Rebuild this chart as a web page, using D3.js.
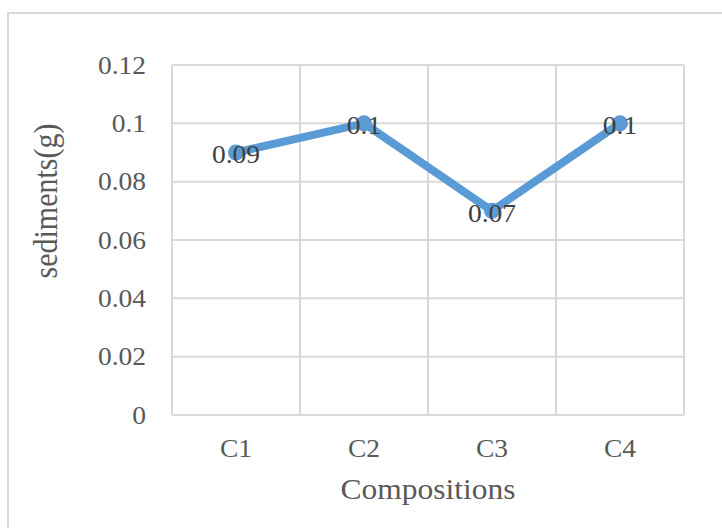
<!DOCTYPE html>
<html>
<head>
<meta charset="utf-8">
<script src="https://cdn.jsdelivr.net/npm/d3@7"></script>
<style>
  html, body { margin: 0; padding: 0; background: #ffffff; }
  svg { display: block; }
  svg text { font-family: 'Liberation Serif', 'Times New Roman', Tinos, 'DejaVu Serif', serif !important; }
</style>
</head>
<body>
<svg id="chart" width="722" height="528"></svg>
<script>
const categories = ["C1", "C2", "C3", "C4"];
const values = [0.09, 0.1, 0.07, 0.1];
const valueLabels = ["0.09", "0.1", "0.07", "0.1"];
const yTicks = [0, 0.02, 0.04, 0.06, 0.08, 0.1, 0.12];
const xTitle = "Compositions";
const yTitle = "sediments(g)";

const svg = d3.select("#chart");
const W = 722, H = 528;
const plot = { left: 172, right: 684, top: 65, bottom: 415 };
const K = 1.1; // horizontal glyph stretch seen in the reference

function stretch(sel, k) {
  sel.each(function () {
    const t = d3.select(this);
    const xv = +t.attr("x") || 0;
    t.attr("x", xv / k).attr("transform", `scale(${k},1)`);
  });
}

svg.append("rect")
  .attr("x", 8).attr("y", 13)
  .attr("width", W + 20).attr("height", H + 20)
  .attr("fill", "#ffffff")
  .attr("stroke", "#d9d9d9").attr("stroke-width", 2);

const x = d3.scaleBand().domain(categories).range([plot.left, plot.right]).padding(0);
const y = d3.scaleLinear().domain([0, 0.12]).range([plot.bottom, plot.top]);

svg.append("g").selectAll("line").data(yTicks).join("line")
  .attr("x1", plot.left).attr("x2", plot.right)
  .attr("y1", d => y(d)).attr("y2", d => y(d))
  .attr("stroke", "#d9d9d9").attr("stroke-width", 2);

const bounds = categories.map(c => x(c)).concat([x(categories[categories.length - 1]) + x.bandwidth()]);
svg.append("g").selectAll("line").data(bounds).join("line")
  .attr("x1", d => d).attr("x2", d => d)
  .attr("y1", plot.top).attr("y2", plot.bottom)
  .attr("stroke", "#d9d9d9").attr("stroke-width", 2);

const yAxis = d3.axisLeft(y).tickValues(yTicks).tickSize(0).tickPadding(26)
  .tickFormat(d => d === 0 ? "0" : d3.format("")(+d.toFixed(2)));
const gy = svg.append("g").attr("transform", `translate(${plot.left},0)`).call(yAxis);
gy.attr("font-family", null);
gy.select(".domain").remove();
gy.selectAll("text")
  .attr("font-size", 25).attr("fill", "#595959").attr("dy", "0.32em")
  .call(stretch, K);

const xAxis = d3.axisBottom(x).tickSize(0).tickPadding(24);
const gx = svg.append("g").attr("transform", `translate(0,${plot.bottom})`).call(xAxis);
gx.attr("font-family", null);
gx.select(".domain").remove();
gx.selectAll("text")
  .attr("font-size", 25).attr("fill", "#595959")
  .call(stretch, K);

const cx = c => x(c) + x.bandwidth() / 2;
const line = d3.line().x((d, i) => cx(categories[i])).y(d => y(d));
svg.append("path").datum(values)
  .attr("d", line)
  .attr("fill", "none")
  .attr("stroke", "#5b9bd5").attr("stroke-width", 8)
  .attr("stroke-linejoin", "round").attr("stroke-linecap", "round");

svg.append("g").selectAll("circle").data(values).join("circle")
  .attr("cx", (d, i) => cx(categories[i])).attr("cy", d => y(d))
  .attr("r", 8).attr("fill", "#5b9bd5");

svg.append("g").selectAll("text").data(values).join("text")
  .attr("x", (d, i) => cx(categories[i])).attr("y", d => y(d) + 11)
  .attr("text-anchor", "middle")
  .attr("font-size", 25).attr("fill", "#404040")
  .text((d, i) => valueLabels[i])
  .call(stretch, K);

svg.append("text")
  .attr("x", (plot.left + plot.right) / 2).attr("y", 499)
  .attr("text-anchor", "middle")
  .attr("font-size", 30).attr("fill", "#595959")
  .text(xTitle)
  .call(stretch, 1.05);

svg.append("text")
  .attr("transform", `translate(57,${(plot.top + plot.bottom) / 2 - 39}) rotate(-90) scale(1,${K})`)
  .attr("text-anchor", "middle")
  .attr("font-size", 30).attr("fill", "#595959")
  .text(yTitle);
</script>
</body>
</html>
